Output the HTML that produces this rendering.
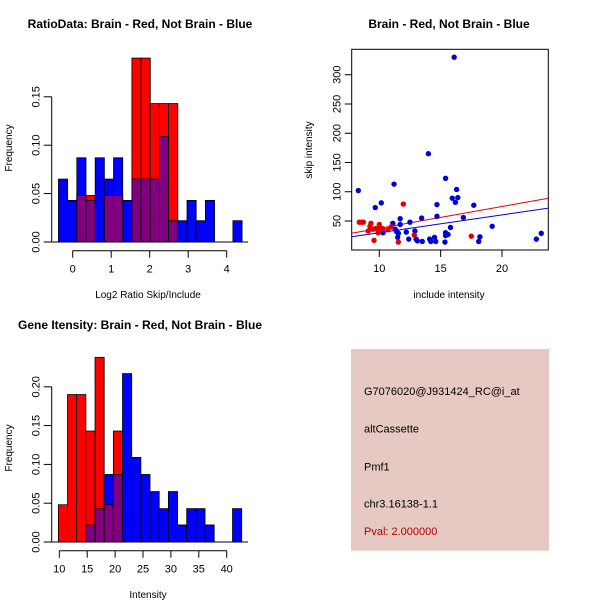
<!DOCTYPE html>
<html><head><meta charset="utf-8"><style>
body{margin:0;background:#fff}
svg{display:block;font-family:"Liberation Sans",sans-serif}
</style></head><body>
<svg id="svg" width="600" height="600" viewBox="0 0 600 600" xmlns="http://www.w3.org/2000/svg">
<rect x="0" y="0" width="600" height="600" fill="#fff"/>
<g id="p1"></g>
<g id="p2"></g>
<g id="p3"></g>
<g id="p4">
<rect x="351" y="349" width="198" height="201.7" fill="#e6c9c2"/>
<text x="364" y="395" font-size="11">G7076020@J931424_RC@i_at</text>
<text x="364" y="432.7" font-size="11">altCassette</text>
<text x="364" y="470.7" font-size="11">Pmf1</text>
<text x="364" y="507.7" font-size="11">chr3.16138-1.1</text>
<text x="364" y="535" font-size="11" fill="#b00000">Pval: 2.000000</text>
</g>
</svg>
<script>
// Ratio histogram data
const ratioBreakStart = -0.37;
const ratioBinWidth = 0.2385;
const ratioBlue = [0.065,0.043,0.087,0.043,0.087,0.065,0.087,0.043,0.065,0.065,0.065,0.109,0.022,0.022,0.043,0.022,0.043,0,0,0.022];
const ratioRed = [0,0,0.048,0.048,0,0.048,0.048,0,0.19,0.19,0.143,0.143,0.143,0,0,0,0,0,0,0];
const ratioXTicks = [0,1,2,3,4];
const ratioYTicks = [0,0.05,0.10,0.15];
const ratioYTickLabels = ["0.00","0.05","0.10","0.15"];
// Intensity histogram data
const intBreakStart = 9.83;
const intBinWidth = 1.643;
const intBlue = [0,0,0,0.022,0.043,0.087,0.087,0.217,0.109,0.087,0.065,0.043,0.065,0.022,0.043,0.043,0.022,0,0,0.043];
const intRed = [0.048,0.19,0.19,0.143,0.238,0.048,0.143,0,0,0,0,0,0,0,0,0,0,0,0,0];
const intXTicks = [10,15,20,25,30,35,40];
const intYTicks = [0,0.05,0.10,0.15,0.20];
const intYTickLabels = ["0.00","0.05","0.10","0.15","0.20"];
// Scatter data
const blueX = [8.29,9.67,10.16,10.3,11.1,11.2,11.3,11.4,11.5,11.55,11.7,11.7,12.2,12.5,12.4,12.9,13.0,13.1,13.45,13.5,14.0,14.1,14.2,14.5,14.6,14.7,14.7,15.4,15.4,15.4,15.35,15.6,15.8,15.95,16.2,16.1,16.3,16.4,16.85,17.7,18.1,18.2,19.2,22.8,23.2];
const blueY = [102,73,81,30,46,113,36,32,22,29,54,44,31,48,19,33,19,16,55,15,165,19,15,22,15,78,58,123,30,25,14,27,39,89,82,330,104,90,56,77,15,23,41,19,29];
const redX = [8.37,8.56,8.7,9.1,9.24,9.32,9.3,9.46,9.57,9.73,9.9,10.0,10.05,10.27,10.7,10.98,11.96,11.55,12.85,17.5];
const redY = [48,48,48,33,41,46,37,36,17,37,30,44,37,37,35,40,79,14,26,24];
const redFit = [7.74,29,23.8,89];
const blueFit = [7.74,23,23.8,72];
const scXTicks = [10,15,20];
const scYTicks = [50,100,150,200,250,300];

const NS="http://www.w3.org/2000/svg";
function mk(parent,tag,attrs,text){const e=document.createElementNS(NS,tag);for(const k in attrs)e.setAttribute(k,attrs[k]);if(text!==undefined)e.textContent=text;parent.appendChild(e);return e;}

function hist(g,o){
  const sx=v=>o.x0+(v-o.xv0)*o.xs, sy=v=>o.y0-v*o.ys;
  for(let i=0;i<o.blue.length;i++){
    const a=o.bs+i*o.bw,b=a+o.bw,x=sx(a),w=sx(b)-x;
    const bl=o.blue[i],rd=o.red[i];
    if(bl>0){const r=mk(g,'rect',{x:x,y:sy(bl),width:w,height:sy(0)-sy(bl),fill:'#0000ff',stroke:'#000','stroke-width':0.8});
      
      }
    if(rd>0){const r=mk(g,'rect',{x:x,y:sy(rd),width:w,height:sy(0)-sy(rd),fill:'#ff0000',stroke:'#000','stroke-width':0.8});
      
      }
    const m=Math.min(bl,rd);
    if(m>0){const r=mk(g,'rect',{x:x,y:sy(m),width:w,height:sy(0)-sy(m),fill:'#800080',stroke:'#000','stroke-width':0.8});
      
      }
  }
  mk(g,'line',{x1:o.yax,x2:o.xend,y1:sy(0),y2:sy(0),stroke:'#000'});
  // y axis
  const ya=mk(g,'g',{});
  
  
  mk(ya,'line',{x1:o.yax,x2:o.yax,y1:sy(0),y2:sy(o.yt[o.yt.length-1]),stroke:'#000'});
  o.yt.forEach((t,i)=>{mk(ya,'line',{x1:o.yax-8,x2:o.yax,y1:sy(t),y2:sy(t),stroke:'#000'});
    const tx=mk(ya,'text',{x:0,y:0,'font-size':11,'text-anchor':'middle',transform:`translate(${o.yax-12},${sy(t)}) rotate(-90)`},o.ytl[i]);
    
    });
  const xa=mk(g,'g',{});
  
  
  const xy=o.y0+8.7;
  mk(xa,'line',{x1:sx(o.xt[0]),x2:sx(o.xt[o.xt.length-1]),y1:xy,y2:xy,stroke:'#000'});
  o.xt.forEach(t=>{mk(xa,'line',{x1:sx(t),x2:sx(t),y1:xy,y2:xy+7,stroke:'#000'});
    const tx=mk(xa,'text',{x:sx(t),y:xy+22,'font-size':11,'text-anchor':'middle'},String(t));
    
    });
  const ti=mk(g,'text',{x:140,y:o.ty,'font-size':12,'font-weight':'bold','text-anchor':'middle'},o.title);
  
  
  const xl=mk(g,'text',{x:148,y:o.xly,'font-size':10,'text-anchor':'middle'},o.xlab);
  
  
  const yl=mk(g,'text',{x:0,y:0,'font-size':10,'text-anchor':'middle',transform:`translate(12,${o.yly}) rotate(-90)`},'Frequency');
  
  
}
hist(document.getElementById('p1'),{x0:72.7,xv0:0,xs:38.5,y0:242,ys:968,bs:ratioBreakStart,bw:ratioBinWidth,blue:ratioBlue,red:ratioRed,yt:ratioYTicks,ytl:ratioYTickLabels,xt:ratioXTicks,yax:51.7,xend:248,ty:28,title:'RatioData: Brain - Red, Not Brain - Blue',xly:298,xlab:'Log2 Ratio Skip/Include',yly:148});
hist(document.getElementById('p3'),{x0:59.3,xv0:10,xs:5.58,y0:542,ys:776,bs:intBreakStart,bw:intBinWidth,blue:intBlue,red:intRed,yt:intYTicks,ytl:intYTickLabels,xt:intXTicks,yax:51.7,xend:248,ty:329,title:'Gene Itensity: Brain - Red, Not Brain - Blue',xly:598,xlab:'Intensity',yly:448});

// scatter
(function(){
  const g=document.getElementById('p2');
  const sx=v=>379.3+(v-10)*12.27, sy=v=>221-(v-50)*0.585;
  const L=351.7,R=548.3,T=49.3,B=250;
  const fr=mk(g,'rect',{x:L,y:T,width:R-L,height:B-T,fill:'none',stroke:'#000'});
  
  
  const cp=mk(g,'clipPath',{id:'clp'});mk(cp,'rect',{x:L,y:T,width:R-L,height:B-T});
  const lr=mk(g,'line',{x1:sx(redFit[0]),y1:sy(redFit[1]),x2:sx(redFit[2]),y2:sy(redFit[3]),stroke:'#e00000','clip-path':'url(#clp)'});
  
  
  const lb=mk(g,'line',{x1:sx(blueFit[0]),y1:sy(blueFit[1]),x2:sx(blueFit[2]),y2:sy(blueFit[3]),stroke:'#0000c0','clip-path':'url(#clp)'});
  
  
  blueX.forEach((x,i)=>{const c=mk(g,'circle',{cx:sx(x),cy:sy(blueY[i]),r:2.7,fill:'#0000d8'});
    
    });
  redX.forEach((x,i)=>{const c=mk(g,'circle',{cx:sx(x),cy:sy(redY[i]),r:2.7,fill:'#e00000'});
    
    });
  scYTicks.forEach(t=>{mk(g,'line',{x1:L-7,x2:L,y1:sy(t),y2:sy(t),stroke:'#000'});
    const tx=mk(g,'text',{x:0,y:0,'font-size':11,'text-anchor':'middle',transform:`translate(${L-11},${sy(t)}) rotate(-90)`},String(t));
    
    });
  scXTicks.forEach(t=>{mk(g,'line',{x1:sx(t),x2:sx(t),y1:B,y2:B+7,stroke:'#000'});
    const tx=mk(g,'text',{x:sx(t),y:B+22,'font-size':11,'text-anchor':'middle'},String(t));
    
    });
  const ti=mk(g,'text',{x:449,y:28,'font-size':12,'font-weight':'bold','text-anchor':'middle'},'Brain - Red, Not Brain - Blue');
  
  
  const xl=mk(g,'text',{x:449,y:298,'font-size':10,'text-anchor':'middle'},'include intensity');
  
  
  const yl=mk(g,'text',{x:0,y:0,'font-size':10,'text-anchor':'middle',transform:`translate(312,150) rotate(-90)`},'skip intensity');
  
  
})();
</script>
</body></html>
